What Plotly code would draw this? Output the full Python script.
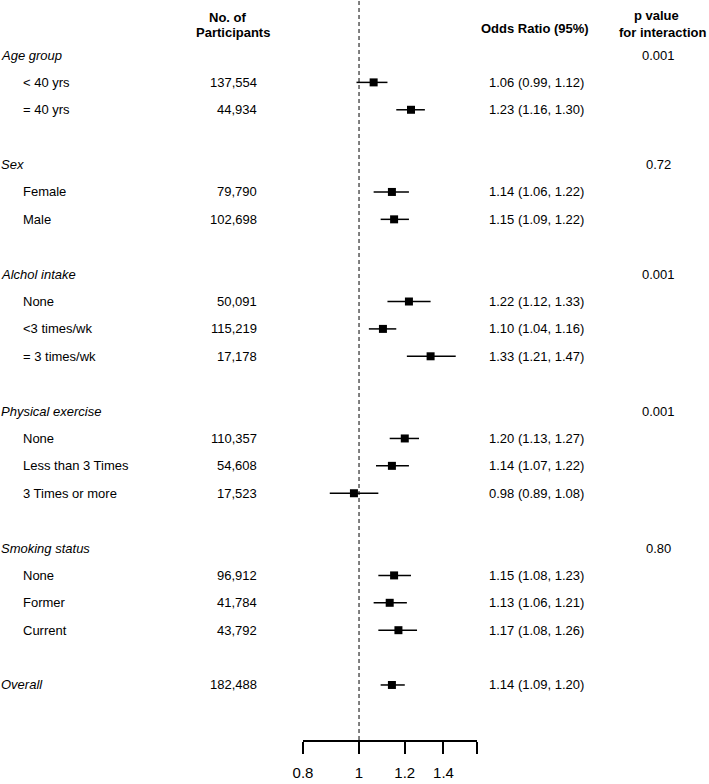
import math
import plotly.graph_objects as go

# ---------------- data ----------------
group_names = ["Age group", "Sex", "Alchol intake", "Physical exercise", "Smoking status"]
group_p = ["0.001", "0.72", "0.001", "0.001", "0.80"]
subgroup_labels = [
    ["< 40 yrs", "= 40 yrs"],
    ["Female", "Male"],
    ["None", "<3 times/wk", "= 3 times/wk"],
    ["None", "Less than 3 Times", "3 Times or more"],
    ["None", "Former", "Current"],
]
participants = [
    ["137,554", "44,934"],
    ["79,790", "102,698"],
    ["50,091", "115,219", "17,178"],
    ["110,357", "54,608", "17,523"],
    ["96,912", "41,784", "43,792"],
]
odds_ratio = [
    [1.06, 1.23],
    [1.14, 1.15],
    [1.22, 1.10, 1.33],
    [1.20, 1.14, 0.98],
    [1.15, 1.13, 1.17],
]
ci_low = [
    [0.99, 1.16],
    [1.06, 1.09],
    [1.12, 1.04, 1.21],
    [1.13, 1.07, 0.89],
    [1.08, 1.06, 1.08],
]
ci_high = [
    [1.12, 1.30],
    [1.22, 1.22],
    [1.33, 1.16, 1.47],
    [1.27, 1.22, 1.08],
    [1.23, 1.21, 1.26],
]
overall_label = "Overall"
overall_n = "182,488"
overall_or = 1.14
overall_lo = 1.09
overall_hi = 1.20

tick_values = [0.8, 1, 1.2, 1.4, 1.6]
tick_labels = ["0.8", "1", "1.2", "1.4", ""]

# ---------------- layout constants ----------------
W, H = 709, 784
FONT = "Liberation Sans, Arial, Helvetica, sans-serif"
TOP_ROW_PX = 55.0
ROW_PX = 27.39
AXIS_PX = 740.0
X_LEFT_PX, X_RIGHT_PX = 303.0, 477.0


def row_of_px(p):
    return (p - TOP_ROW_PX) / ROW_PX


def px(x):
    return x / W


rows_or, rows_lo, rows_hi, rows_y = [], [], [], []
annotations = []


def add_text(text, xpx, row, anchor="left", size=13):
    annotations.append(dict(
        text=text, x=px(xpx), y=row, xref="paper", yref="y",
        xanchor=anchor, yanchor="middle", showarrow=False,
        font=dict(family=FONT, size=size, color="black"), borderpad=0,
    ))


r = 0
for gi, g in enumerate(group_names):
    add_text("<i>%s</i>" % g, 0, r)
    add_text(group_p[gi], 658, r, anchor="center")
    for si, lab in enumerate(subgroup_labels[gi]):
        rr = r + 1 + si
        add_text(lab, 22, rr)
        add_text(participants[gi][si], 258, rr, anchor="right")
        o, lo, hi = odds_ratio[gi][si], ci_low[gi][si], ci_high[gi][si]
        add_text("%.2f (%.2f, %.2f)" % (o, lo, hi), 488, rr)
        rows_or.append(o); rows_lo.append(lo); rows_hi.append(hi); rows_y.append(rr)
    r += len(subgroup_labels[gi]) + 2

add_text("<i>%s</i>" % overall_label, 0, r)
add_text(overall_n, 258, r, anchor="right")
add_text("%.2f (%.2f, %.2f)" % (overall_or, overall_lo, overall_hi), 488, r)
rows_or.append(overall_or); rows_lo.append(overall_lo); rows_hi.append(overall_hi); rows_y.append(r)

# headers
add_text("<b>No. of</b>", 227, row_of_px(17), anchor="center")
add_text("<b>Participants</b>", 233, row_of_px(32), anchor="center")
add_text("<b>Odds Ratio (95%)</b>", 535, row_of_px(28), anchor="center")
add_text("<b>p value</b>", 656, row_of_px(15), anchor="center")
add_text("<b>for interaction</b>", 662, row_of_px(32), anchor="center")

fig = go.Figure()
fig.add_trace(go.Scatter(
    x=rows_or, y=rows_y, mode="markers",
    marker=dict(symbol="square", size=8, color="black"),
    error_x=dict(type="data", symmetric=False,
                 array=[h - o for h, o in zip(rows_hi, rows_or)],
                 arrayminus=[o - l for o, l in zip(rows_or, rows_lo)],
                 color="black", thickness=1.5, width=0),
    hoverinfo="skip", showlegend=False,
))

fig.add_shape(type="line", xref="x", yref="paper", x0=1, x1=1, y0=0, y1=1,
              line=dict(color="black", width=1, dash="4px,3px"), layer="below")

eps = 1e-6
fig.update_layout(
    width=W, height=H,
    margin=dict(l=0, r=0, t=0, b=H - AXIS_PX, pad=0, autoexpand=False),
    paper_bgcolor="white", plot_bgcolor="white",
    annotations=annotations,
    xaxis=dict(
        type="log",
        domain=[X_LEFT_PX / W, X_RIGHT_PX / W],
        range=[math.log10(0.8) - eps, math.log10(1.6) + eps],
        tickvals=tick_values, ticktext=tick_labels,
        ticks="outside", ticklen=12, tickwidth=2, tickcolor="black",
        showline=True, linewidth=2, linecolor="black",
        showgrid=False, zeroline=False, automargin=False,
        tickfont=dict(family=FONT, size=15, color="black"),
        ticklabelstandoff=6,
    ),
    yaxis=dict(
        range=[row_of_px(AXIS_PX), row_of_px(0)],
        showticklabels=False, showgrid=False, zeroline=False, showline=False,
        ticks="", automargin=False,
    ),
)

fig.write_html(
    "out.html",
    config={"responsive": False, "displayModeBar": False},
    post_script="document.body.style.margin='0';document.body.style.padding='0';document.body.style.overflow='hidden';",
)
